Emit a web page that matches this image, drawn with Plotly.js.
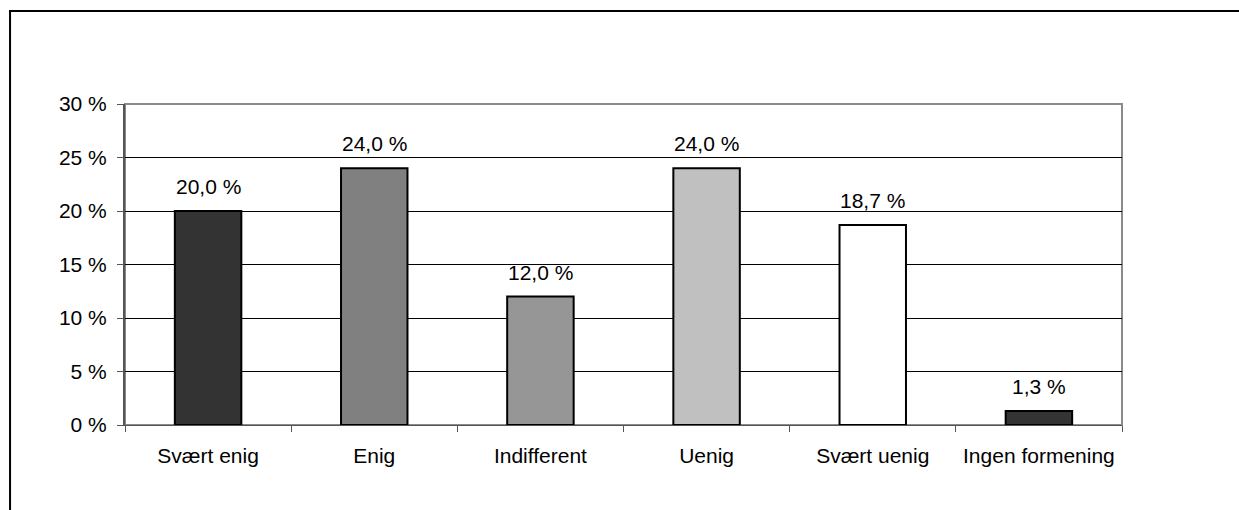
<!DOCTYPE html>
<html>
<head>
<meta charset="utf-8">
<script src="https://cdn.plot.ly/plotly-3.0.1.min.js"></script>
<style>
  html, body { margin: 0; padding: 0; background: #ffffff; }
  #chart { width: 1239px; height: 510px; }
</style>
</head>
<body>
<div id="chart"></div>
<script>
// Response categories and their share of answers (percent)
const categories = ["Svært enig", "Enig", "Indifferent", "Uenig", "Svært uenig", "Ingen formening"];
const shares = [20.0, 24.0, 12.0, 24.0, 18.7, 1.3];
const barColors = ["#333333", "#808080", "#969696", "#c0c0c0", "#ffffff", "#333333"];

const font = { family: "Liberation Sans, Arial, sans-serif", size: 21, color: "#000000" };

const trace = {
  type: "bar",
  x: categories,
  y: shares,
  width: 0.4,
  marker: { color: barColors, line: { color: "#000000", width: 2 } },
  hoverinfo: "skip"
};

// Value labels above each bar, Norwegian decimal comma
const labels = categories.map((c, i) => ({
  x: c,
  y: shares[i],
  xref: "x",
  yref: "y",
  text: shares[i].toFixed(1).replace(".", ",") + " %",
  showarrow: false,
  yanchor: "bottom",
  yshift: 11,
  font: font
}));

const layout = {
  width: 1239,
  height: 510,
  margin: { l: 125, r: 117, t: 104, b: 85 },
  paper_bgcolor: "#ffffff",
  plot_bgcolor: "#ffffff",
  font: font,
  showlegend: false,
  separators: ", ",
  xaxis: {
    type: "category",
    tickson: "boundaries",
    ticks: "outside",
    ticklen: 6,
    tickcolor: "#555555",
    ticklabelstandoff: 12,
    showgrid: false,
    showline: true,
    linecolor: "#555555",
    linewidth: 1,
    tickfont: font,
    fixedrange: true
  },
  yaxis: {
    range: [0, 30],
    dtick: 5,
    ticksuffix: " %",
    ticks: "outside",
    ticklen: 6,
    tickcolor: "#555555",
    ticklabelstandoff: 6,
    showgrid: true,
    gridcolor: "#000000",
    gridwidth: 1,
    showline: true,
    linecolor: "#555555",
    linewidth: 2,
    zeroline: false,
    tickfont: font,
    fixedrange: true
  },
  annotations: labels,
  shapes: [
    // plot area border
    { type: "rect", xref: "paper", yref: "paper", x0: 0, x1: 1, y0: 0, y1: 1,
      line: { color: "#8a8a8a", width: 2 }, layer: "below" },
    // outer chart frame
    { type: "rect", xref: "paper", yref: "paper", x0: -0.1153, x1: 1.6, y0: -0.5, y1: 1.2897,
      line: { color: "#000000", width: 2 } }
  ]
};

Plotly.newPlot("chart", [trace], layout, { staticPlot: true, displayModeBar: false });
</script>
</body>
</html>
